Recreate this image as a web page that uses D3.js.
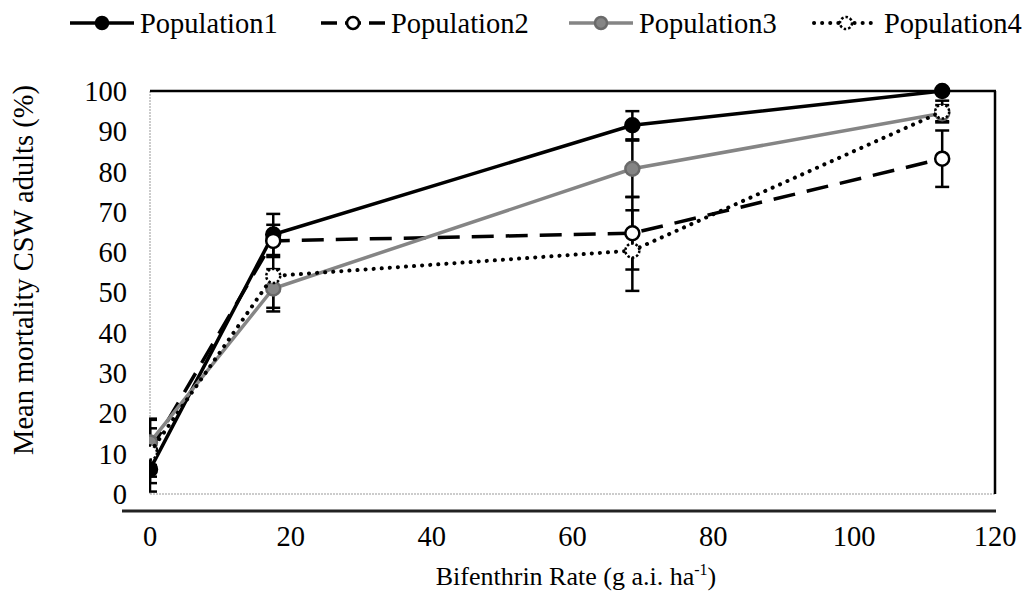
<!DOCTYPE html>
<html>
<head>
<meta charset="utf-8">
<script src="https://cdn.jsdelivr.net/npm/d3@7"></script>
<style>
  body { margin: 0; background: #fff; }
</style>
</head>
<body>
<svg width="1030" height="602"></svg>
<script>
const rates = [0, 17.5, 68.5, 112.5];
const seriesNames = ["Population1", "Population2", "Population3", "Population4"];
const pop1 = [6.1, 64.4, 91.5, 100];
const pop2 = [10.7, 62.8, 64.7, 83.2];
const pop3 = [12.8, 51, 80.7, 94.5];
const pop4 = [10.3, 54.1, 60.4, 94.9];
const err1 = [5.5, 5.1, 3.5, 0];
const err2 = [8, 4, 9, 7];
const err3 = [5.6, 4.8, 7, 2];
const err4 = [6, 8.8, 10, 2.7];
const xTicks = [0, 20, 40, 60, 80, 100, 120];
const yTicks = [0, 10, 20, 30, 40, 50, 60, 70, 80, 90, 100];

const FONT = "'Liberation Serif', 'Times New Roman', 'DejaVu Serif', serif";

const svg = d3.select("svg")
  .attr("font-family", FONT);

const x = d3.scaleLinear().domain([0, 120]).range([150, 995]);
const y = d3.scaleLinear().domain([0, 100]).range([494, 91]);

// series styles
const styles = [
  {stroke: "#000", dash: null, cap: "butt", fill: "#000", mstroke: "#000", mdash: null},
  {stroke: "#000", dash: "22,12", cap: "butt", fill: "#fff", mstroke: "#000", mdash: null},
  {stroke: "#858585", dash: null, cap: "butt", fill: "#858585", mstroke: "#6a6a6a", mdash: null},
  {stroke: "#000", dash: "0.1,8", cap: "round", fill: "#fff", mstroke: "#000", mdash: "2.5,2"}
];

const series = [pop1, pop2, pop3, pop4].map((vals, i) => ({
  name: seriesNames[i],
  style: styles[i],
  points: vals.map((v, j) => ({x: rates[j], y: v, e: [err1, err2, err3, err4][i][j]}))
}));

svg.append("defs").append("clipPath").attr("id", "plotclip")
  .append("rect").attr("x", 149).attr("y", 80).attr("width", 860).attr("height", 430);

// plot frame
svg.append("line").attr("x1", 150).attr("x2", 150).attr("y1", 91).attr("y2", 494)
  .attr("stroke", "#999").attr("stroke-width", 1).attr("stroke-dasharray", "2,1");
svg.append("line").attr("x1", 150).attr("x2", 995).attr("y1", 494).attr("y2", 494)
  .attr("stroke", "#999").attr("stroke-width", 1).attr("stroke-dasharray", "2,1");
svg.append("line").attr("x1", 150).attr("x2", 996).attr("y1", 91).attr("y2", 91)
  .attr("stroke", "#000").attr("stroke-width", 2.5);
svg.append("line").attr("x1", 995).attr("x2", 995).attr("y1", 91).attr("y2", 494)
  .attr("stroke", "#000").attr("stroke-width", 2.5);

// x axis line
svg.append("line").attr("x1", 122).attr("x2", 996).attr("y1", 511).attr("y2", 511)
  .attr("stroke", "#222").attr("stroke-width", 3);

// tick labels
svg.append("g").selectAll("text").data(yTicks).enter().append("text")
  .attr("x", 127).attr("y", d => y(d)).attr("dy", "0.35em")
  .attr("font-family", FONT)
  .attr("text-anchor", "end").attr("font-size", "28.5px").text(d => d);
svg.append("g").selectAll("text").data(xTicks).enter().append("text")
  .attr("x", d => x(d)).attr("y", 546)
  .attr("font-family", FONT)
  .attr("text-anchor", "middle").attr("font-size", "28.5px").text(d => d);

const line = d3.line().x(d => x(d.x)).y(d => y(d.y));
const plot = svg.append("g").attr("clip-path", "url(#plotclip)");

// error bars
series.forEach(s => {
  const g = plot.append("g");
  s.points.filter(d => d.e > 0).forEach(d => {
    g.append("line").attr("x1", x(d.x)).attr("x2", x(d.x))
      .attr("y1", y(d.y - d.e)).attr("y2", y(d.y + d.e))
      .attr("stroke", "#000").attr("stroke-width", 2.5);
    [d.y - d.e, d.y + d.e].forEach(v => {
      g.append("line").attr("x1", x(d.x) - 7).attr("x2", x(d.x) + 7)
        .attr("y1", y(v)).attr("y2", y(v))
        .attr("stroke", "#000").attr("stroke-width", 2.5);
    });
  });
});

// lines and markers
series.forEach(s => {
  plot.append("path").datum(s.points)
    .attr("fill", "none")
    .attr("stroke", s.style.stroke)
    .attr("stroke-width", s.style.cap === "round" ? 4 : 3.5)
    .attr("stroke-linecap", s.style.cap)
    .attr("stroke-dasharray", s.style.dash)
    .attr("d", line);
  plot.append("g").selectAll("circle").data(s.points).enter().append("circle")
    .attr("cx", d => x(d.x)).attr("cy", d => y(d.y)).attr("r", 7)
    .attr("fill", s.style.fill)
    .attr("stroke", s.style.mstroke)
    .attr("stroke-width", 2.5)
    .attr("stroke-dasharray", s.style.mdash);
});

// legend
const legendX = [70, 321, 569, 814];
const legend = svg.append("g");
series.forEach((s, i) => {
  const g = legend.append("g").attr("transform", `translate(${legendX[i]},23)`);
  g.append("line").attr("x1", 0).attr("x2", 64).attr("y1", 0).attr("y2", 0)
    .attr("stroke", s.style.stroke)
    .attr("stroke-width", s.style.cap === "round" ? 4 : 3.5)
    .attr("stroke-linecap", s.style.cap)
    .attr("stroke-dasharray", i === 1 ? "16,8" : s.style.dash);
  g.append("circle").attr("cx", 32).attr("cy", 0).attr("r", 6)
    .attr("fill", s.style.fill).attr("stroke", s.style.mstroke)
    .attr("stroke-width", 2.5).attr("stroke-dasharray", s.style.mdash);
  g.append("text").attr("x", 70).attr("y", 0).attr("dy", "0.35em")
    .attr("font-family", FONT)
    .attr("font-size", "28.5px").text(s.name);
});

// axis titles
svg.append("text")
  .attr("transform", "translate(33,270) rotate(-90)")
  .attr("font-family", FONT)
  .attr("text-anchor", "middle").attr("font-size", "28.5px")
  .text("Mean mortality CSW adults (%)");

const xt = svg.append("text")
  .attr("x", 576).attr("y", 585)
  .attr("font-family", FONT)
  .attr("text-anchor", "middle").attr("font-size", "26px");
xt.append("tspan").text("Bifenthrin Rate (g a.i. ha");
xt.append("tspan").attr("font-size", "16px").attr("dy", "-10").text("-1");
xt.append("tspan").attr("dy", "10").text(")");
</script>
</body>
</html>
